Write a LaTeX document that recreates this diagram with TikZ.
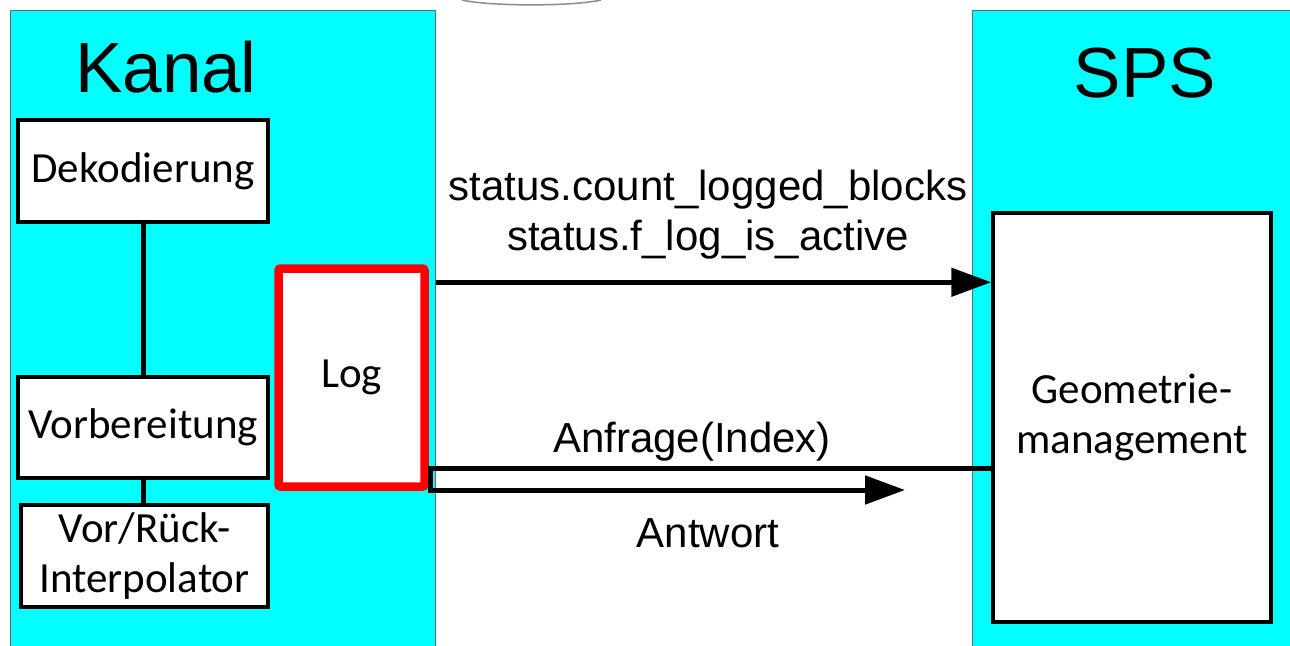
\documentclass[tikz,border=0pt]{standalone}
\usepackage{fontspec}
\setmainfont{Carlito}
\newfontfamily\arial{Liberation Sans}
\usetikzlibrary{arrows.meta}
\definecolor{aqua}{RGB}{0,255,255}
\tikzset{
  panel/.style={fill=aqua,draw=black!60,line width=0.8pt},
  unit/.style={draw=black,fill=white,line width=3.5pt,inner sep=0pt,align=center,
    font=\fontsize{43}{50}\selectfont},
  logbox/.style={unit,draw=red,line width=8.5pt,rounded corners=2pt},
  head/.style={anchor=base,font=\arial\fontsize{71}{80}\selectfont},
  sig/.style={line width=5pt,-{Triangle[length=40pt,width=28pt]}},
  wire/.style={line width=5pt},
  lbl/.style={anchor=base,font=\arial\fontsize{42}{50}\selectfont}
}
\begin{document}
\begin{tikzpicture}[x=1pt,y=-1pt]
        \useasboundingbox (0,0) rectangle (1290,645);
        \fill[white] (0,0) rectangle (1290,645);
        \draw[black!45,line width=1.5pt] (462,0) .. controls (490,6.5) and (573,6.5) .. (601,0);
        \draw[panel] (10,10) rectangle (435,660);
        \draw[panel] (972,10) rectangle (1300,660);
        \node[head] (kanal) at (166,92) {Kanal};
        \node[head] (sps) at (1145,97) {SPS};
        \node[unit,minimum width=250pt,minimum height=102pt] (dek) at (143,171) {Dekodierung};
        \node[unit,minimum width=250pt,minimum height=101pt] (vor) at (143,427.5) {Vorbereitung};
        \node[unit,minimum width=247pt,minimum height=102pt] (ipo) at (144.5,556) {Vor/Rück-\\Interpolator};
        \node[logbox,minimum width=146pt,minimum height=218pt] (log) at (351.5,377.5) {Log};
        \node[unit,minimum width=278pt,minimum height=409pt] (geo) at (1132,417.5) {Geometrie-\\management};
        \draw[wire] (dek.south) -- (vor.north);
        \draw[wire] (vor.south) -- (vor.south |- ipo.north);
        \coordinate (s1) at ([shift={(7,18)}]log.north east);
        \draw[sig] (s1) -- (s1 -| geo.west);
        \node[lbl] (st1) at (708,200) {status.count\_logged\_blocks};
        \node[lbl] (st2) at (708,250) {status.f\_log\_is\_active};
        \coordinate (turn) at (430,468);
        \coordinate (reply) at (905,490);
        \draw[sig,line join=miter] (turn -| geo.west) -- (turn) -- (turn |- reply) -- (reply);
        \node[lbl] (ask) at (692,452) {Anfrage(Index)};
        \node[lbl] (ans) at (708,547) {Antwort};
    \end{tikzpicture}
\end{document}
